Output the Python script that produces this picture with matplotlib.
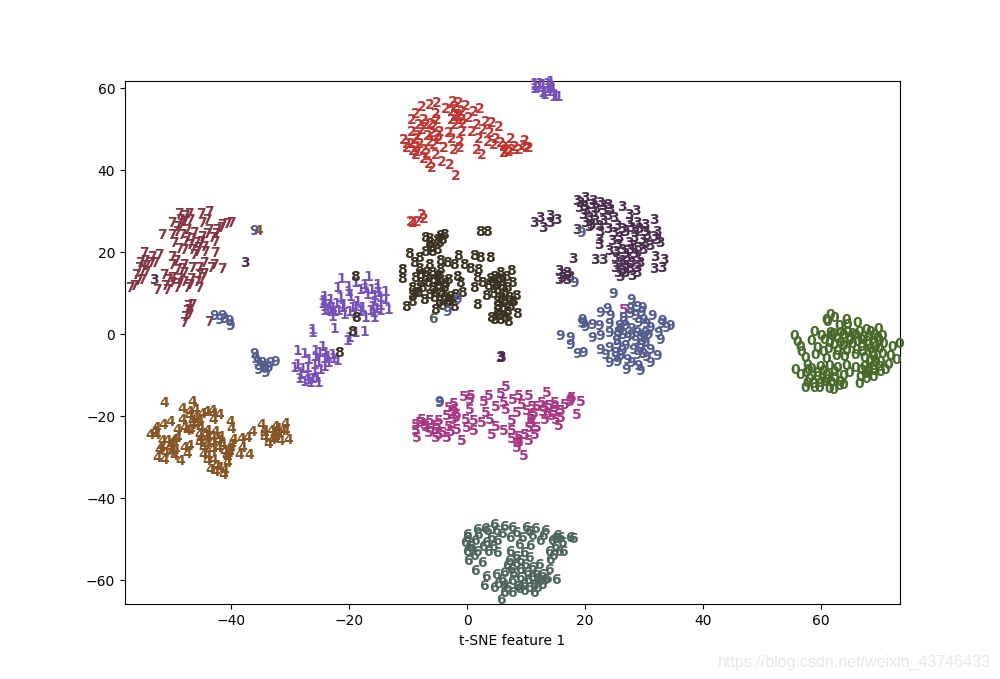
import matplotlib
matplotlib.use('Agg')
import matplotlib.pyplot as plt

colors = ["#476A2A", "#7851B8", "#BD3430", "#4A2D4E", "#875525",
          "#A83683", "#4E655E", "#853541", "#3A3120", "#535D8E"]
x_limits = (-58.0, 73.4)
y_limits = (-65.9, 61.7)

# points (x, y) per digit
pts0 = [(60.7,3.8),(60.2,2.0),(61.4,3.0),(60.1,2.6),(65.4,1.9),(63.4,2.4),(63.7,1.3),(62.2,1.1),(54.6,-1.3),(55.1,-2.8),(55.7,-4),(55.8,-5.2),
        (56.5,-6.8),(56.8,-8.4),(54.8,-9.6),(55.7,-10.9),(58,-0.3),(59.3,-1.3),(60.7,-0.7),(57.6,-2.7),(58.5,-4.3),(59.6,-5.2),(58.2,-6),
        (66.8,0.1),(67.5,-0.3),(68.9,0.3),(69.5,-1.3),(68.7,-1.9),(71.2,-4),(72.4,-3.3),(70.9,-6.2),(71.9,-7.2),(70.6,-8.4),(70,-9.6),(69.2,-7.7),
        (69.3,-10.3),(68.1,-11.4),(66.9,-12),(65.6,-13),(65.8,-11.4),(56.5,-14),(58,-14),(58.8,-14),(60.5,-14.3),(61.2,-14.5),(63,-13.3),(62.3,-13.5),
        (61,-1.5),(62,-2.2),(63,-1.2),(64,-1.8),(65,-1.2),(66,-2.3),(67,-2.8),(68,-3.3),(61.5,-3.5),(63,-3.8),(64.5,-3.4),(66,-4),(67.5,-4.6),(69,-4.5),
        (60,-7),(61.8,-6.2),(63.2,-6.6),(65,-6),(66.5,-6.8),(68,-6.4),(57.5,-9.5),(59,-9),(60.5,-8.6),(62,-9.2),(63.5,-8.8),(65,-9.2),(66.5,-9),(68,-8.8),
        (57.2,-11.8),(58.5,-11.4),(60,-11),(61.5,-11.6),(63,-11.2),(67,-10.3),(56.8,-12.8),(59.8,-12.6),(61,-12.8),(62.5,-12.6),(64,-10.5),(66,-9.8),
        (59.8,-2.3),(60.6,-3),(61.2,-.9),(62.4,-.6),(63.6,-.3),(64.4,-.9),(65.6,-.5),(66.3,-1.6),(67.2,-1.7),(68.2,-1.1),(69.1,-2.6),(69.7,-3.4),(68.4,-4.1),
        (67.2,-3.7),(65.4,-2.9),(63.9,-2.7),(62.5,-3),(60.4,-4.6),(62,-5),(63.4,-5.1),(65.2,-4.7),(66.2,-5.4),(67.8,-5.5),(69.5,-5.8),(67.5,-7.5),(68.3,-7.8),
        (69,-9),(67.2,-9.8),(66.6,-10.6),(68,-10),(57,-9.8),(56.6,-10.5),(58.5,-10.4),(59.5,-10),(60.3,-12.2),(59,-12.9),(57.8,-13),(61.5,-10.2)]
pts1 = [(-22.1,12.5),(-17.6,12.9),(-22.9,10.3),(-20.9,10.5),(-19.7,11.5),(-18.3,11.1),(-16.1,11.1),(-14.7,9.4),(-25.1,8.2),(-24,7.4),(-22.3,7.8),
        (-20.6,8.2),(-17.8,8.6),(-14.7,7.4),(-25.1,5.8),(-23.7,5.4),(-22.6,4.6),(-21.7,3.8),(-20.3,5.4),(-18.6,5.4),(-16.9,5.8),(-14.1,5),(-23.7,3.3),
        (-18,3),(-16.6,3),(-15.5,4.6),(-25,7),(-24.5,5),(-23,6.4),(-21.8,6.2),(-20.8,4.5),(-19.5,6.8),(-19,4.4),(-16.5,7),(-16,10),(-17,9.8),(-15.5,6),
        (-21,9.4),(-19,9.8),(-18,10),(-16.8,4.3),(-24.2,6.2),(-23.3,4.5),(-22,5.4),(-20,4),(-19.7,5.8),(-17.3,4.7),(-16.2,5.2),(-15.5,8),(-15.8,9),(-16.6,8.4),
        (-25.2,7.2),(-25.3,6.4),(-25,4.8),(-24,4.4),
        (-27.1,-0.6),(-27,0.1),(-23.4,0.4),(-18.3,-0.4),(-19.8,-0.6),(-20.8,-1.8),(-21.2,-2.6),
        (-29.6,-5),(-25.4,-4),(-28.5,-5.8),(-26.5,-5),(-24.8,-5.6),(-23.7,-6),(-29.6,-8.4),(-27.7,-7.2),(-26,-8),(-24.3,-8),(-22.9,-7.6),(-30.2,-9.3),
        (-27.9,-9.3),(-25.7,-9.7),(-29.1,-10.9),(-26.8,-10.5),(-28.5,-12.5),(-27.4,-12.9),(-26,-12.9),(-25,-7),(-26.5,-6.6),(-25,-9),(-28,-11.5),(-27,-12),
        (-25.8,-5.5),(-24.6,-6.4),(-26.8,-8.5),(-28.8,-9.5),(-29.2,-12),(-27.8,-12.2),(-26.4,-11.6),(-23.5,-7),
        (10.5,59.6),(11.9,59.8),(13.3,60.7),(10.5,59),(12.1,58.2),(13.6,59.4),(13.85,57),(14.7,57),(12.3,57.4),(10.5,60.2),(13.3,59.8),(11.9,57.8),
        (11.2,59.2),(12.7,59),(13.1,58.2),(14.2,57.2),(11.5,60),(12.8,60.2)]
pts2 = [(-8.5,54.6),(-7.1,55),(-6,55.4),(-3.3,55.8),(-2.3,55.4),(-1.1,54.7),(1.4,54.1),(-4.5,53.9),(-9.6,52.9),(-6.2,52.9),(-3.4,53.3),(-1.7,53.3),
        (0.3,53.3),(-10.2,51.3),(-8.2,51.3),(-6,51.3),(-3.4,51.3),(-1.7,51.3),(-0.6,51.7),(2.3,50.9),(0.85,50.1),(3.4,50.5),(4.6,49.5),(-10.2,48.5),
        (-8.5,48.9),(-6.8,48.1),(-5.4,48.5),(-4,48.1),(-1.7,48.5),(0,48.5),(3.1,48.1),(1.1,46.8),(4,46.8),(-11.6,46.4),(-9.6,46.8),(-7.1,46),(-5.6,46.4),
        (-3.4,46.8),(-2,46),(6.5,46.7),(9,46.3),(-11,44.4),(-9.6,44.4),(-8.2,44),(-4.8,44.4),(-3.1,44),(-2,44.6),(0.85,44),(3.7,45.2),(5.4,44.8),(6.8,44),
        (7.9,44),(9.3,44.4),(-9.6,42.8),(-8.2,41.7),(-6.2,42.8),(-5.1,41.1),(-3.7,40.3),(-7.3,40.7),(-6.8,39.5),(1.7,42.8),(5.4,43.2),(-2.8,37.6),
        (-9,50),(-7.8,50.2),(-9.2,47.5),(-10.4,45.5),(-8.8,45.4),(-7.5,47.4),(-3,50),(-2.2,52.5),(1.8,48.8),(4.8,45.7),(6.2,43.5),(8.7,45),(-10.1,43.8),(2.6,46),
        (-3,54.4),(-2.4,52),(-1.5,50.4),(-2.9,52.2),(-7,50.4),(-6.5,49.8),(-5.8,47.5),(-6.4,45.2),(-11,45.4),(-9.3,43.4),(-7.6,43),(7.2,44.8),(5.8,44),(9.6,44.6),
        (-10.4,26.5),(-9.3,26.5),(-8.5,28.1),(-8.2,27.1),(-10.1,26.3)]
pts3 = [(17.8,31.5),(19.2,32.3),(18.1,29.8),(20.1,30.6),(21.7,31),(23,30.6),(18.9,28.2),(20.6,28.6),(22.3,29),(23.4,29.4),(19.2,26.2),(20.9,26.6),
        (22.3,26.6),(24,27.4),(25.4,30.1),(27.8,29),(26.6,28.2),(30.8,27),(26.6,26.2),(28,26.2),(29.3,25.8),(17.8,24.5),(19.9,25.2),(21.7,24.1),(24.6,25.4),
        (24,23.7),(26,24.1),(27.7,23.7),(29.4,24.1),(31.4,24.1),(21.5,22.1),(21.5,20.9),(23.7,21.7),(26.6,21.3),(28.8,22.1),(31.4,22.1),(30.2,20.5),(28.2,20.1),
        (23.2,19.3),(25.4,19.7),(26.8,19.7),(31.1,18),(32.5,17.1),(20.8,17.2),(22.3,17.2),(24.3,17.6),(26.3,17.6),(28,17.6),(24.3,15.2),(26,15.6),(28,15.2),
        (30.8,15),(32.2,15.2),(25.1,13),(27.1,13.2),(25.4,14.4),(17.2,17.4),(14.7,14.4),(16.1,14),(14.7,12.2),(16.1,12.2),(16.7,13),(10.5,26.2),(11.6,27.4),
        (12,25),(13.3,27.8),(14.4,26.8),(13.3,26.2),(-38.5,16.5),(-53.9,12.3),(4.7,-6.7),(4.9,-6.6),(5,-6.8),
        (19,30),(21,29.5),(19.8,27.4),(21.5,25.5),(25,22.5),(27.5,22.5),(24.8,20.7),(27.3,20.5),(29,19.5),(25,16.5),(27,16.5),(28.5,16.5),(26,14),(28,14),
        (18.4,31),(20.5,31.5),(22.3,30.4),(19.4,29.1),(23,27.9),(20.2,25.8),(23,24.6),(25.4,24.8),(27,25),(28.4,24.8),(29.7,23),(24.5,19),(26,18.6),(27.4,18.6),
        (25.4,17),(26.8,15),(24.7,14),(29.4,21),(30.8,22.8),(31.8,21.4),(15.4,13.6),(15.2,12.8)]
pts4 = [(-52.2,-17.8),(-47.4,-17.5),(-49.1,-19.1),(-47.9,-20),(-46.9,-19.5),(-45.7,-20.4),(-44,-19.8),(-42.8,-20.6),(-43.8,-21.8),(-40.9,-22.4),(-40.8,-24.1),
        (-49.2,-21.8),(-51.1,-22.5),(-52.4,-23.1),(-53.5,-23.9),(-54.5,-25.5),(-53.6,-25.5),(-50,-24.3),(-48.8,-23.9),(-47.4,-22.2),(-47.7,-24.3),(-46.3,-22.2),
        (-46,-23.9),(-44.9,-24.7),(-43.5,-24.9),(-50,-26.3),(-51.7,-26.9),(-52.5,-27.1),(-50.5,-26.7),(-46.3,-25.5),(-44.9,-26.3),(-42.6,-26.1),(-46.3,-27.5),
        (-44,-27.5),(-42.3,-27.9),(-53.1,-29.1),(-51.4,-28.7),(-50.3,-29.1),(-48.8,-28.7),(-48,-28.3),(-48.3,-30.1),(-45.6,-28.7),(-44,-29.1),(-42,-29.6),
        (-53.4,-31.2),(-52.2,-31.6),(-50.5,-30.6),(-49.4,-32),(-45.5,-30.4),(-43.8,-31.6),(-41.2,-30),(-40.4,-26.7),(-39.2,-26.5),(-38.1,-26.3),(-37.3,-24.9),
        (-39,-28.7),(-39.5,-30.4),(-37.8,-30.4),(-41.5,-31.2),(-44.9,-32),(-44.3,-34),(-42.9,-33.6),(-42.1,-35.2),(-35.7,-23.1),(-35.3,-24.7),(-33.3,-23.5),
        (-31.6,-22.8),(-33.6,-25.5),(-35.3,-26.3),(-34.5,-27.7),(-32.5,-27.1),(-31.2,-26.7),(-31.6,-24.7),(-33.9,-26.7),(-41.5,-32.4),(-36.3,24.3),
        (-47,-21.5),(-47.5,-23),(-45,-20),(-43.8,-20.5),(-52,-29.9),(-51,-28),(-43,-27),(-45,-28),(-53.8,-24.8),(-34,-24.5),(-33,-25),(-43.4,-33),(-41,-29),
        (-48,-21),(-46.8,-22.9),(-48.3,-24.7),(-51,-27.8),(-50.8,-29.8),(-52.6,-28.4),(-45.2,-25.6),(-44,-26),(-43,-28.8),(-41.6,-30.7),(-40.8,-28),
        (-33,-24),(-32.2,-24.5),(-33.4,-26.2),(-35.2,-25.4),(-42,-34.4),(-43.6,-34.6),(-44.8,-30.6),(-46,-26.6)]
pts5 = [(5.8,-13.9),(4.9,-15.5),(-1.4,-16.3),(-.2,-16),(2.8,-16.1),(2,-17.4),(-.3,-17.1),(8,-16),(9.7,-16),(12.7,-15.3),(17,-16.5),(18.4,-17.6),(7,-17.1),
        (5.4,-17.8),(4,-18.6),(8.5,-18.2),(-3.1,-18),(-4,-19),(-.3,-19.4),(2.3,-20.2),(5.7,-19.4),(10.2,-18.6),(11.9,-17.8),(14.1,-17.8),(15.8,-18.2),(17.8,-20.6),
        (-4.2,-21),(-2.5,-20.6),(3.1,-21.8),(7.6,-20.2),(9.3,-19.8),(12.4,-19),(13.8,-20.2),(-8.5,-21.8),(-7.1,-22.2),(-5.6,-22.2),(-9.6,-23),(-7.9,-23.5),(-1.1,-21.8),
        (.3,-22.2),(1.7,-22.6),(6.8,-22.2),(9.9,-21.8),(12.4,-21.8),(15,-21.4),(14.7,-23.3),(-9.6,-24.7),(-6.2,-24.3),(-4,-23.5),(-.8,-23.9),(-2.5,-24.3),(4,-23.5),
        (9.6,-23.9),(11,-23.9),(-9.3,-26.3),(-6.2,-26.3),(-4.2,-26.3),(.3,-24.7),(-1.8,-26.9),(3.4,-25.5),(5.4,-24.7),(6.8,-24.7),(10.7,-25.5),(6.8,-26.5),(9.6,-27.1),
        (7.9,-27.1),(7.6,-28.7),(8.8,-30.8),(25.7,4.9),
        (-3,-19.5),(-3.5,-20),(-8,-23),(-7,-24),(-6,-23.4),(-5,-25),(-8.8,-22.6),(11,-18.6),(13,-18.5),(12.8,-20.5),(10.5,-20.5),(16.5,-17.4),(14,-19),(8,-26),(9,-25.6),
        (-7.4,-25),(-5.6,-25.6),(-3.6,-24.8),(-3.2,-22),(-2.8,-21.4),(13.5,-21),(14.2,-22),(12,-20),(15,-19.6),(10,-22.8),(10.2,-21.2),(8,-27.5),(16.8,-17)]
pts6 = [(3.7,-47.6),(5.4,-47.9),(6.8,-48.3),(9.2,-48.3),(10.7,-48.4),(12.4,-48.9),(14.4,-50.1),(17.2,-50.9),(16.7,-50.7),(.85,-48.7),(-.85,-49.9),(2.5,-49.1),
        (5.1,-49.7),(8.5,-50.7),(10.2,-50.3),(11.6,-51.5),(13.6,-51.5),(15.3,-51.9),(-1.1,-51.9),(.6,-51.5),(2.3,-51.9),(4.2,-51.5),(6.5,-50.7),(7.9,-52.3),(9.9,-52.7),
        (13,-54),(14.7,-54),(15.5,-54),(-.85,-54),(.85,-54),(2.8,-54),(4.2,-54.4),(6.5,-54),(8.8,-54.4),(-.6,-56.4),(.3,-55.2),(1.7,-56.8),(6.2,-56.4),(8.2,-56.4),
        (9.6,-55.6),(13.3,-56),(11.3,-57.2),(.6,-58.8),(6,-57.6),(8.2,-58.4),(13,-58.4),(10.2,-58),(14.2,-60.9),(2.3,-60.1),(4,-59.7),(5.4,-59.2),(8.2,-60.5),(10.2,-60.5),
        (11.9,-59.7),(2,-62.5),(3.7,-62.9),(5.1,-60.9),(6.8,-61.3),(8.8,-62.1),(11.9,-62.1),(5.4,-64.1),(6.8,-64.1),(8.8,-63.7),(10.5,-64.1),(5,-65.8),(11.6,-61.3),(10.5,-62.1),
        (-6.6,2.8),(1,-50),(3.2,-50.6),(-.2,-53),(1.9,-53),(3.5,-52.8),(7.4,-55.3),(7,-59.5),(9.3,-59.3),(6,-63),(7.7,-62.7),(4.4,-61.8),(12.8,-60.8),(14,-52.8),(13.8,-55),(11,-60.8),(9.5,-61),
        (-.8,-50.8),(-.5,-52.8),(2.2,-48.4),(4,-49),(7.4,-49.4),(9.6,-49.2),(12,-50.2),(14,-51),(15,-50.8),(6.7,-58.5),(9,-57.4),(7.5,-57),(5.5,-62.4),(9.7,-63),(11,-63),(12.4,-61),(10.8,-59.2),(8,-63.2)]
pts7 = [(-49.7,28.5),(-48,28.5),(-46,28.5),(-44.6,28.8),(-50.8,26.1),(-48.8,26.5),(-45.7,26.1),(-42.4,25.7),(-40.9,26.3),(-52.6,23.3),(-50,25.3),(-48.3,24.5),(-44.6,24.5),
        (-43.2,24.5),(-50.8,23.3),(-49.1,23.3),(-47.2,23.7),(-44,22.5),(-50.5,21.2),(-48.6,21.6),(-46,21.6),(-43.5,21.6),(-48.8,19.6),(-47.4,19.6),(-45.5,20.4),(-43.5,18.8),
        (-47.1,18.4),(-55.6,18.8),(-53.1,18.4),(-54.2,18),(-50.8,18),(-43.8,16),(-56.2,16.4),(-54.5,16.4),(-50.8,16),(-48.8,16),(-45.5,16.4),(-42.4,14.9),(-56.5,15.1),(-55.3,14.3),
        (-52.2,13.5),(-50,14.7),(-46.3,15.1),(-44.3,15.1),(-57,13.5),(-55.9,12.3),(-50.8,12.7),(-48.8,13.9),(-46.3,13.5),(-57.3,10.7),(-50.8,11.5),(-48.8,11.9),(-46.6,11.9),
        (-53.4,9.8),(-51.7,9.8),(-50,10.3),(-48.3,10.3),(-46.3,10.3),(-47.4,6.2),(-48.3,4.6),(-48.6,3.3),(-48.8,1.7),(-48,5),(-44.5,2.1),(-45.7,12.7),(-53.7,16.4),(-57.9,10.3),
        (-49.5,27),(-47.8,27),(-45,27),(-47.5,22.2),(-46.5,20),(-45.3,19),(-49.7,12.5),(-49.2,15),(-47.6,12.5),(-55.2,15.8),(-49.7,19.8),(-42.5,25),(-41.6,25.9),(-43.4,23.4),
        (-49.3,25.9),(-48.6,28),(-50,23.9),(-48.3,22.6),(-46.8,21.2),(-45.8,22.8),(-44.9,23.4),(-46.6,19.2),(-47.8,20.8),(-56,14.5),(-55.4,17),(-56.6,12),(-51.6,12.2),(-49.6,11.2),
        (-47.8,11),(-45.4,13.8),(-50.2,16.8),(-47.4,15.2),(-52,10.8),(-47.9,3.8),(-48.2,6)]
pts8 = [(1.4,24.1),(2.5,24.1),(-7.9,22.5),(-7.3,21.3),(-5.4,22.9),(-4.8,23.3),(-5.6,21.3),(-7.9,19.2),(-6.8,19.2),(-6,19.6),(-10.7,18.6),(-2.4,18.2),(.3,18.2),(1.4,17.6),(3.1,17.6),
        (-9,17.6),(-9.9,16.4),(-7.3,16),(-5.4,16.8),(-4.2,16.4),(-3.1,16),(-1.4,16),(-.3,14.9),(1.1,14.7),(-11.9,14.7),(-11.9,12.5),(-8.9,14.9),(-6.8,13.9),(-5.4,14.7),(-2.5,13.1),
        (.85,12.7),(3.7,13.1),(4.8,13.9),(6.7,14.4),(-9.6,12.7),(-7.9,12.7),(-5.4,12.3),(-4,12.3),(-2,11.5),(1.7,11.5),(3.4,11.9),(5.1,11.9),(6.8,11.5),(-10.2,10.3),(-8.5,10.3),
        (-6.8,10.3),(-4.8,10.3),(.3,10.3),(-1.7,9.1),(-2.8,8.7),(2.3,8.3),(4.2,9.9),(5.9,10.3),(-10.2,8.3),(-8.2,7.4),(-6.5,7.9),(-4.8,7.9),(4.2,7),(7.4,8.3),(-11.2,5.8),(-10.2,7),
        (-6.2,5),(-4.2,6.6),(-3.1,5.8),(.85,6.1),(6.5,5.8),(4.2,4.6),(7.6,3.9),(3.7,2.5),(6.1,2.1),(4.5,3.4),(-19.8,13),(-19.6,3),(-20.3,-.3),(-22.6,-5.5),
        (-8.8,13.5),(-7.5,11.5),(-6,11.8),(-6.2,9),(-5.2,9),(-3.8,8.2),(-9.2,9),(3.9,11),(4.9,10.5),(3.5,8.8),(5,8),(5.5,6.8),(4.2,5.7),(6,4.5),(4.8,2.5),(-5,6),(-7.3,8.6),(-5.8,13.2),
        (-7.2,22.4),(-6,22),(-5,22),(-7,20.2),(-7.8,14),(-6.6,12.2),(-8.8,11.5),(-9.6,9.2),(-5.6,7),(-4,7.2),(-5.8,10.8),(-4.5,11.2),(3,12.4),(4.4,12.5),(5.8,13),(2.8,10.8),(5.4,9.2),
        (6.2,8),(6.8,7),(5.3,5.4),(4.4,3.6),(5.6,3),(3.2,3),(7,6.8),(-3.2,7)]
pts9 = [(23.9,8.9),(27,7.5),(23,5.2),(21.7,4.1),(23.4,3.4),(26.8,5.2),(28,5.8),(28.8,5.4),(25.7,3),(27.7,3.4),(30.5,3.4),(32.2,2.2),(33.6,1),(18.6,2.4),(19.2,.8),(20.3,1.4),
        (21.5,1),(23.2,1.6),(24.9,1),(26,1),(28.2,1.8),(30.2,.6),(31.6,-.7),(15,-1.3),(16.7,-1.9),(16.7,-3.5),(17.8,-5.7),(18.9,-5.5),(20.3,-1.9),(21.7,-1.5),(23.2,-.7),(24.6,-1.5),
        (25.7,-1.1),(28,-.7),(29.4,-.7),(31.9,-2.3),(21.7,-4.9),(23.2,-4.3),(24.6,-3.5),(26,-3.9),(27.4,-4.7),(29.4,-3.1),(30.2,-4.7),(31.4,-6.2),(23.2,-8.1),(24.6,-7.8),(26.3,-7.2),
        (29.1,-5.9),(30.2,-8),(26.1,-9.6),(28.2,-8.8),(28.5,-10),(24.3,-5.5),(28.5,-1.5),(18.5,23.7),(17.4,11.5),(-37,24.3),(-43.8,3.4),(-42.4,3.6),(-41.2,2.2),(-42.8,2.6),(-41,1),
        (-37,-5.9),(-36.8,-7),(-35.6,-8),(-34.2,-8),(-33.3,-7.8),(-36.2,-9.6),(-35,-10.4),(-34.5,-9.2),(-36.5,-7.8),(-5.6,-17.4),(-5.5,-17.7),(-2.5,7.4),(-4.2,4.5),
        (25,-.5),(26.3,-2),(27,.3),(29,-2),(25.5,-5),(28,-6),(28.7,-3.5),(18.9,1.6),(18.5,1.8),(24.5,-2.6),(22.5,-6),(29.6,1.5),(32,1.5),(33,.5),(27.6,-2.6),
        (25.2,.3),(24.8,-.4),(25.7,2),(29,2.6),(26.8,4),(28.6,4.2),(29.8,-1.2),(27,-1.2),(28.5,-4.5),(29.6,-6.5),(27,-8),(24.2,-6.6),(25.2,-6.2),(-42,2.8),(-35.2,-9),(-36,-8.6)]

all_pts = [pts0, pts1, pts2, pts3, pts4, pts5, pts6, pts7, pts8, pts9]

plt.figure(figsize=(10, 6.79), dpi=100)
plt.xlim(x_limits)
plt.ylim(y_limits)
for digit in range(10):
    for x, y in all_pts[digit]:
        plt.text(x, y, str(digit), color=colors[digit], fontdict={'weight': 'bold', 'size': 10})
plt.xlabel("t-SNE feature 1")
plt.gcf().text(0.991, 0.0175, "https://blog.csdn.net/weixin_43746433", color='#e8e8e8', fontsize=11.5,
               family='Liberation Sans', ha='right', va='baseline')
plt.savefig('out.png', dpi=100)
